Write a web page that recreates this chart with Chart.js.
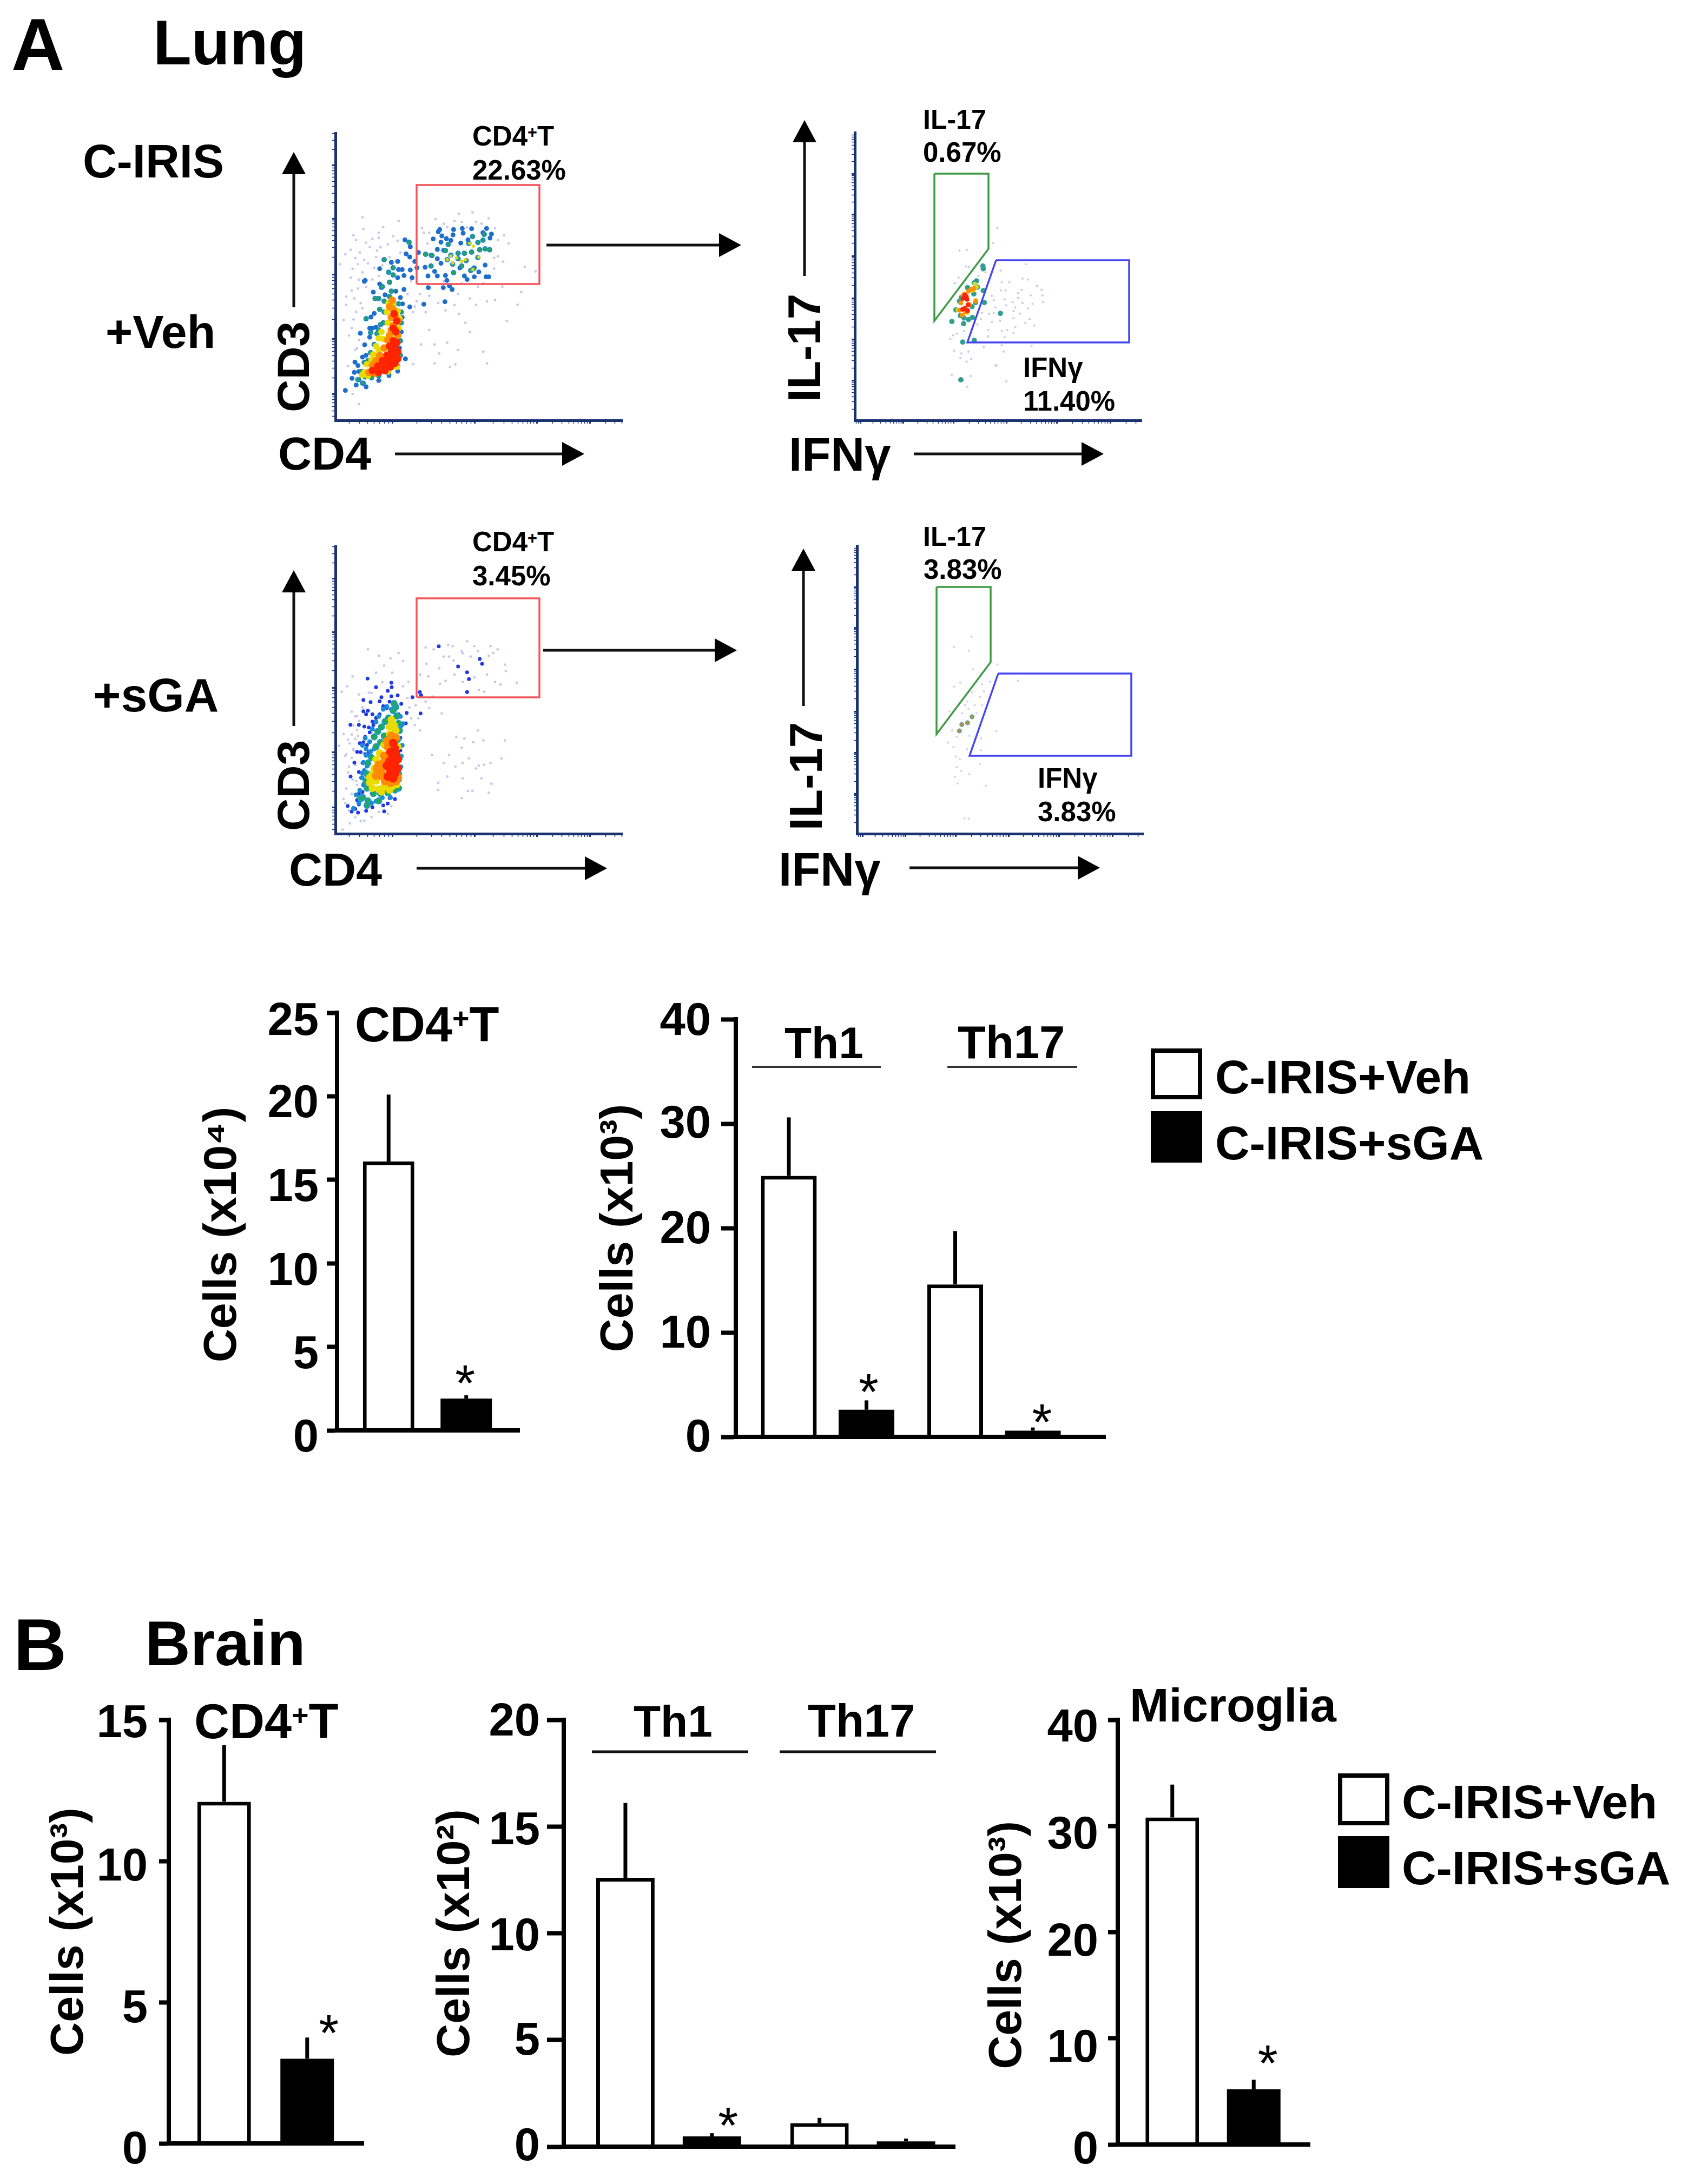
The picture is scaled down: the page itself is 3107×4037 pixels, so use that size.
<!DOCTYPE html>
<html>
<head>
<meta charset="utf-8">
<title>Lung and brain T cells</title>
<script src="https://cdn.jsdelivr.net/npm/chart.js@4"></script>
<style>
html, body { margin: 0; background: #fff; }
#page { position: relative; width: 3107px; height: 4037px; overflow: hidden; font-family: "Liberation Sans", Arial, sans-serif; font-weight: bold; color: #000; }
#page canvas { position: absolute; }
#arrows { position: absolute; left: 0; top: 0; }
.txt { position: absolute; line-height: 1; white-space: nowrap; }
.txt sup { font-size: .6em; vertical-align: .45em; line-height: 0; }
.swatch { position: absolute; box-sizing: border-box; border: 8px solid #000; }
</style>
</head>
<body>
<div id="page">
<svg id="arrows" width="3107" height="4037"></svg>
</div>
<script>
// Bar values, error bars (upward only) and y ticks
const barGroups = ['C-IRIS+Veh', 'C-IRIS+sGA'];
const subsetLabels = ['Th1', 'Th17'];

const lungCd4Ticks = [0, 5, 10, 15, 20, 25];
const lungCd4Veh = [16.1];
const lungCd4VehErr = [4.0];
const lungCd4Sga = [1.9];
const lungCd4SgaErr = [0.2];

const lungThTicks = [0, 10, 20, 30, 40];
const lungThVeh = [25.0, 14.6];
const lungThVehErr = [5.6, 5.1];
const lungThSga = [2.6, 0.6];
const lungThSgaErr = [0.9, 0.3];

const brainCd4Ticks = [0, 5, 10, 15];
const brainCd4Veh = [12.1];
const brainCd4VehErr = [2.0];
const brainCd4Sga = [3.0];
const brainCd4SgaErr = [0.75];

const brainThTicks = [0, 5, 10, 15, 20];
const brainThVeh = [12.6, 1.1];
const brainThVehErr = [3.5, 0.25];
const brainThSga = [0.48, 0.25];
const brainThSgaErr = [0.15, 0.13];

const microgliaTicks = [0, 10, 20, 30, 40];
const microgliaVeh = [30.8];
const microgliaVehErr = [3.1];
const microgliaSga = [5.2];
const microgliaSgaErr = [0.9];

// Flow plots, events in channel units (x, y)
const cd4MajorTicks = [315, 771, 1116, 1410];
const cd3MajorTicks = [144, 450, 810, 1119, 1413];
const ifngMajorTicks = [30, 267, 546, 840, 1119, 1416];
const il17MajorTicks = [222, 450, 678, 912, 1143, 1368];

const cd4Gate = [[450, 756], [1131, 756], [1131, 1305], [450, 1305], [450, 756]];
const il17Gate = [[441, 1368], [741, 1368], [741, 951], [441, 552], [441, 1368]];
const ifngGate = [[783, 888], [1521, 888], [1521, 432], [624, 432], [783, 888]];

const vehCd4Red = [[320,441],[340,431],[300,411],[330,401],[345,381],[310,381],[285,361],[320,351],[345,341],[260,331],[295,326],[330,316],[235,301],[270,296],[305,296],[205,276],[240,266],[275,276],[325,591],[340,551],[320,511],[335,491]];
const vehCd4Orange = [[315,666],[300,631],[320,616],[330,581],[310,571],[345,551],[320,526],[335,501],[310,501],[290,446],[270,401],[245,361],[225,331],[205,306],[185,266],[300,471],[345,471],[250,291],[220,261]];
const vehCd4Yellow = [[295,651],[320,646],[285,601],[345,606],[355,566],[290,541],[255,491],[240,456],[265,451],[225,411],[240,391],[210,366],[200,336],[175,311],[160,266],[148,251],[350,511],[180,246],[290,271],[340,296]];
const vehCd4GateYellow = [[745,981],[765,966],[640,911],[670,901],[720,891],[795,906],[620,891],[650,873],[700,881],[762,836]];
const vehCd4Green = [[245,616],[270,601],[265,541],[250,531],[240,501],[230,481],[215,421],[195,376],[180,331],[160,321],[145,271],[165,241],[200,236],[240,246],[295,261],[345,301],[360,361],[360,441],[365,541],[365,601],[350,646],[300,686],[270,661],[240,676],[220,676],[150,206],[125,226],[408,988],[320,846],[295,821],[270,891],[300,766],[320,806],[260,741],[310,716],[170,563],[195,486],
  [740,981],[790,986],[818,999],[825,1031],[760,1019],[800,946],[855,946],[830,951],[755,933],[715,926],[680,926],[640,916],[535,914],[500,921],[530,856],[620,891],[650,866],[680,896],[700,856],[725,886],[750,831],[765,841],[655,819],[790,903],[610,941],[625,976]];
const vehCd4Blue = [[55,166],[115,196],[170,186],[105,266],[92,233],[108,323],[125,304],[138,483],[162,419],[388,341],[240,221],[345,273],[297,249],[130,226],[155,206],[170,563],[197,573],[215,593],[190,511],[205,511],[225,516],[190,461],[165,776],[160,771],[245,841],[310,876],[345,881],[350,836],[370,836],[380,803],[345,791],[245,756],[255,736],[210,711],[275,696],[335,716],[380,726],[360,681],[372,646],[412,629],[490,644],[607,658],[515,736],[598,736],[632,746],[647,726],[425,791],[415,834],[452,846],[412,906],[392,923],[385,1001],[415,963],[460,931],[440,881],[370,571],[365,491],[355,401],[150,351],[170,361],[130,271],
  [578,1058],[655,1058],[703,1064],[755,1063],[838,1064],[570,1046],[590,1023],[652,1029],[708,1038],[818,1041],[865,1033],[857,1011],[542,1006],[585,988],[615,1008],[640,998],[695,983],[565,948],[600,943],[530,916],[565,896],[497,849],[550,826],[513,801],[565,801],[610,803],[618,776],[715,801],[730,781],[770,796],[835,796],[850,796],[830,861],[795,823],[770,846],[585,871],[690,846],[735,1001]];
const vehCd4Pale = [[150,1126],[100,1026],[205,1006],[240,1011],[265,1071],[155,1061],[350,1106],[85,946],[135,931],[190,961],[290,976],[320,1021],[345,996],[230,941],[55,921],[125,866],[215,846],[180,871],[25,866],[85,791],[125,731],[150,821],[205,781],[105,676],[60,686],[150,621],[45,556],[115,601],[90,511],[130,446],[110,391],[70,301],[95,146],[130,91],
  [420,771],[470,701],[440,631],[520,691],[570,651],[680,701],[745,676],[885,666],[1010,641],[1030,711],[950,551],[720,541],[685,591],[520,501],[745,491],[550,421],[620,431],[475,421],[575,371],[680,391],[820,381],[665,311],[635,296],[840,316],[430,311],[550,316],
  [685,1146],[760,1153],[810,1091],[885,1066],[935,1026],[960,981],[880,901],[880,841],[1050,851],[1110,826],[480,1066],[555,1116],[660,1106],[490,1041],[925,741],[790,741],[620,1071],[730,1071],
  [115,1000],[170,985],[225,905],[250,960],[300,905],[360,930],[240,1040],[110,900],[160,890],[95,840],[240,800],[260,860],[130,780],[170,740],[90,720],[60,640],[140,650],[100,560],[75,470],[120,400],[450,660],[400,700],[430,600],[500,600],[610,610],[660,640],[780,640],[840,660],[900,1000],[850,1120],[640,1000],[700,1100],[520,1040],[510,980],[600,1090],[780,1100],[900,910],[930,880],[820,760],[700,760],[600,770]];

const sgaCd4Red = [[320,502],[330,472],[305,452],[335,442],[315,422],[345,412],[300,402],[330,392],[285,377],[315,372],[345,362],[305,347],[330,332],[290,317],[320,307],[335,352]];
const sgaCd4Orange = [[310,542],[335,532],[290,482],[270,432],[265,392],[255,357],[265,322],[275,292],[305,282],[335,292],[285,512],[250,322],[240,382],[225,322],[230,362],[345,312]];
const sgaCd4Yellow = [[310,632],[325,602],[300,592],[335,572],[300,552],[270,492],[245,447],[225,412],[215,362],[205,332],[225,292],[190,282],[205,252],[240,247],[270,262],[315,262],[340,272],[345,482],[190,312],[255,232],[300,242]];
const sgaCd4Green = [[295,642],[275,622],[255,592],[235,567],[215,537],[270,542],[250,507],[225,482],[200,422],[180,392],[175,332],[170,292],[175,252],[210,222],[250,222],[290,227],[330,242],[350,252],[150,202],[180,182],[240,182],[175,157],[335,702],[320,682],[340,652],[325,722],[350,612],[355,572],[345,522],[355,422],[350,332],[140,197]];
const sgaCd4Cyan = [[165,530],[190,510],[150,490],[170,470],[195,455],[215,470],[170,435],[190,430],[155,395],[175,375],[160,350],[150,335],[145,310],[155,270],[135,240],[115,215],[145,190],[130,170],[100,140],[205,580],[225,620],[240,650],[265,690],[285,705],[310,690],[365,600],[375,610],[360,650],[370,490],[365,430],[362,370],[355,300],[345,255],[305,200],[260,200],[225,180],[200,170]];
const sgaCd4Blue = [[90,122],[110,137],[125,117],[130,162],[170,127],[205,147],[265,157],[290,167],[300,197],[330,192],[270,124],[68,154],[84,317],[130,342],[105,394],[150,392],[180,377],[120,454],[140,452],[165,442],[185,452],[155,507],[175,492],[165,537],[190,562],[160,594],[185,589],[130,604],[83,604],[210,602],[205,622],[225,642],[245,662],[205,662],[155,679],[180,682],[170,662],[195,730],[155,742],[245,734],[225,812],[178,860],[265,707],[285,697],[255,757],[290,792],[310,837],[312,812],[310,762],[345,767],[300,732],[365,720],[330,712],[395,670],[427,757],[472,667],[390,612],[365,602],[350,662],[360,532],[360,462],[365,372],[350,302],[135,502],[150,232],[130,222],[150,312],[160,282],[120,187],
  [573,1039],[800,969],[813,942],[680,927],[730,895],[740,857],[730,785],[468,785],[475,767]];
const sgaCd4Pale = [[180,1022],[240,987],[305,972],[375,957],[350,1002],[65,817],[35,787],[95,872],[225,892],[270,932],[315,892],[185,782],[130,772],[375,817],[405,842],[400,752],[445,712],[500,732],[590,667],[520,697],[120,652],[90,677],[45,552],[125,542],[70,522],[20,487],[100,462],[55,432],[115,292],[75,372],[45,192],[80,57],[40,22],[160,72],[200,92],[310,152],[440,602],[470,572],
  [790,572],[670,537],[715,527],[765,507],[820,517],[940,517],[700,477],[535,437],[630,437],[740,417],[920,417],[600,392],[665,372],[705,392],[795,377],[860,392],[825,382],[780,362],[620,317],[705,307],[810,307],[570,282],[865,277],[570,242],[735,237],[760,237],[850,227],[700,197],
  [500,1032],[545,1022],[625,1047],[730,1067],[700,1012],[790,1012],[900,1022],[850,987],[875,1002],[600,982],[630,982],[505,942],[575,917],[750,982],[810,942],[940,937],[945,902],[610,847],[705,842],[770,867],[840,882],[885,842],[1005,837],[515,872],[470,882],[660,882],[795,797],[825,787],[915,827],[580,832],
  [110,650],[130,625],[100,600],[120,575],[90,550],[110,525],[80,500],[100,470],[60,440],[90,420],[110,380],[70,340],[95,300],[120,270],[60,250],[90,220],[55,170],[75,130],[110,90],[140,70],[240,120],[290,110],[150,700],[200,780],[260,840],[420,640],[410,700],[460,640],[540,760],[655,960],[705,1000],[770,1040],[860,1040],[650,1040]];

const vehThRed = [[618,686],[610,696],[622,671],[628,641],[610,621],[598,616],[625,609],[600,676]];
const vehThOrange = [[645,726],[660,731],[588,651],[670,661],[635,641],[580,611],[615,601],[600,691],[630,716],[595,583]];
const vehThYellow = [[665,756],[655,721],[675,739],[570,613],[595,586],[625,596],[670,666],[605,701]];
const vehThGreen = [[710,856],[712,841],[662,763],[675,773],[680,739],[660,701],[625,736],[560,613],[585,581],[605,568],[630,559],[652,571],[712,719],[718,653],[670,653],[807,593],[538,548],[603,536],[598,434],[662,443],[590,681],[580,661],[650,631],[588,225]];
const vehThPale = [[580,941],[620,946],[765,983],[790,1066],[615,853],[632,851],[575,791],[555,761],[685,801],[725,821],[808,831],[947,866],[930,786],[960,781],[815,766],[857,766],[1010,746],[1035,724],[923,724],[810,721],[835,721],[905,706],[975,693],[1040,693],[760,691],[905,679],[1045,656],[830,671],[875,656],[930,651],[985,646],[840,638],[770,666],[780,626],[890,626],[960,621],[880,606],[915,591],[770,596],[745,591],[705,596],[880,566],[805,551],[970,561],[760,546],[945,541],[995,526],[890,516],[700,561],[680,531],[740,501],[815,496],[845,501],[880,486],[565,481],[545,471],[605,496],[530,451],[740,466],[830,461],[715,406],[815,416],[980,411],[550,386],[590,371],[630,381],[825,381],[645,341],[620,326],[780,306],[585,346],[624,186],[840,216],[642,246],[537,252],[786,303]];

const sgaThOrange = [[638,648],[613,615],[581,605],[568,570]];
const sgaThPale = [[635,1093],[538,1035],[620,1015],[645,911],[778,938],[573,838],[538,815],[738,843],[893,848],[693,828],[703,788],[638,783],[683,758],[613,733],[653,713],[598,713],[618,693],[583,668],[693,713],[663,668],[513,678],[528,573],[553,538],[623,543],[688,528],[773,568],[506,505],[535,481],[610,468],[688,463],[548,428],[570,413],[683,388],[553,368],[578,348],[623,331],[543,315],[558,278],[716,266],[596,85],[620,83]];

const page = document.getElementById('page');

// Text and arrows around the charts
function addText(html, x, baseline, size) {
    const el = document.createElement('div');
    el.className = 'txt';
    el.innerHTML = html;
    el.style.left = x + 'px';
    el.style.top = (baseline - 0.8465 * size) + 'px';
    el.style.fontSize = size + 'px';
    page.appendChild(el);
}

function addRotatedText(html, cx, cy, size) {
    const el = document.createElement('div');
    el.className = 'txt';
    el.innerHTML = html;
    el.style.left = cx + 'px';
    el.style.top = cy + 'px';
    el.style.fontSize = size + 'px';
    el.style.transform = 'translate(-50%,-50%) rotate(-90deg)';
    page.appendChild(el);
}

function addLine(x1, y1, x2, y2, width, color) {
    const svg = document.getElementById('arrows');
    const line = document.createElementNS('http://www.w3.org/2000/svg', 'line');
    line.setAttribute('x1', x1);
    line.setAttribute('y1', y1);
    line.setAttribute('x2', x2);
    line.setAttribute('y2', y2);
    line.setAttribute('stroke', color);
    line.setAttribute('stroke-width', width);
    svg.appendChild(line);
}

function addArrow(x1, y1, x2, y2) {
    const svg = document.getElementById('arrows');
    const len = Math.hypot(x2 - x1, y2 - y1);
    const ux = (x2 - x1) / len, uy = (y2 - y1) / len;
    const bx = x2 - ux * 41, by = y2 - uy * 41;
    addLine(x1, y1, bx, by, 5, '#111');
    const head = document.createElementNS('http://www.w3.org/2000/svg', 'polygon');
    head.setAttribute('points', [x2, y2, bx - uy * 22, by + ux * 22, bx + uy * 22, by - ux * 22].join(' '));
    svg.appendChild(head);
}

function addSwatch(x, y, w, h, filled) {
    const el = document.createElement('div');
    el.className = 'swatch';
    el.style.cssText = 'left:' + x + 'px;top:' + y + 'px;width:' + w + 'px;height:' + h + 'px;background:' + (filled ? '#000' : '#fff');
    page.appendChild(el);
}

addText('A', 21, 129, 136);
addText('Lung', 283, 119, 116);
addText('B', 25, 3087, 136);
addText('Brain', 268, 3078, 116);
addText('C-IRIS', 153, 328, 87);
addText('+Veh', 195, 643, 86);
addText('+sGA', 172, 1315, 88);

addRotatedText('CD3', 542, 678, 84);
addText('CD4', 514, 868, 86);
addText('CD4<sup>+</sup>T', 873, 269, 51);
addText('22.63%', 873, 332, 51);
addRotatedText('IL-17', 1486, 643, 86);
addText('IFNγ', 1458, 870, 87);
addText('IL-17', 1706, 238, 50);
addText('0.67%', 1706, 299, 51);
addText('IFNγ', 1891, 697, 51);
addText('11.40%', 1891, 759, 51);

addRotatedText('CD3', 542, 1452, 84);
addText('CD4', 534, 1637, 86);
addText('CD4<sup>+</sup>T', 873, 1019, 51);
addText('3.45%', 873, 1082, 51);
addRotatedText('IL-17', 1489, 1435, 86);
addText('IFNγ', 1439, 1637, 87);
addText('IL-17', 1706, 1009, 50);
addText('3.83%', 1707, 1070, 51);
addText('IFNγ', 1918, 1456, 51);
addText('3.83%', 1918, 1518, 51);

addArrow(543, 568, 543, 281);
addArrow(730, 839, 1080, 839);
addArrow(1010, 453, 1370, 453);
addArrow(1487, 510, 1487, 222);
addArrow(1689, 839, 2040, 839);
addArrow(543, 1342, 543, 1054);
addArrow(770, 1605, 1122, 1605);
addArrow(1004, 1202, 1362, 1202);
addArrow(1485, 1305, 1485, 1014);
addArrow(1681, 1604, 2033, 1604);

// Panel headers
addText('CD4<sup>+</sup>T', 656, 1925, 90);
addText(subsetLabels[0], 1450, 1956, 82);
addText(subsetLabels[1], 1770, 1956, 85);
addLine(1390, 1972, 1628, 1972, 4, '#333');
addLine(1751, 1972, 1991, 1972, 4, '#333');
addText('CD4<sup>+</sup>T', 359, 3213, 90);
addText(subsetLabels[0], 1171, 3210, 82);
addText(subsetLabels[1], 1493, 3210, 85);
addLine(1094, 3238, 1383, 3238, 5, '#111');
addLine(1441, 3238, 1730, 3238, 5, '#111');
addText('Microglia', 2088, 3182, 87);

// Legends
addSwatch(2127, 1938, 95, 94, false);
addSwatch(2127, 2054, 95, 95, true);
addText(barGroups[0], 2246, 2021, 88);
addText(barGroups[1], 2246, 2143, 88);
addSwatch(2473, 3278, 95, 96, false);
addSwatch(2473, 3394, 95, 96, true);
addText(barGroups[0], 2591, 3361, 88);
addText(barGroups[1], 2591, 3483, 88);

function placeCanvas(id, left, top, width, height) {
    const canvas = document.createElement('canvas');
    canvas.id = id;
    canvas.width = width;
    canvas.height = height;
    canvas.style.left = left + 'px';
    canvas.style.top = top + 'px';
    page.appendChild(canvas);
    return canvas;
}

// Bar panels: two series, black axes, error bars and stars drawn from the scales
function barPanel(id, cfg) {
    const titleSize = 86;
    const marginTop = 100, marginBottom = 120, marginRight = 80;
    const canvasLeft = cfg.titleX - 70;
    const marginLeft = cfg.x0 - canvasLeft;
    const canvas = placeCanvas(id, canvasLeft, cfg.y0 - marginTop,
        marginLeft + cfg.x1 - cfg.x0 + marginRight, cfg.y1 - cfg.y0 + marginTop + marginBottom);

    const extras = {
        id: 'barExtras',
        afterLayout(chart) {
            const { x, y } = chart.scales;
            y.right = cfg.axisX - canvasLeft;
            y.left = cfg.titleX - canvasLeft - titleSize / 2;
            x.left = cfg.axisX - canvasLeft;
            x.right = cfg.xEnd - canvasLeft;
            y.getLabelItems(chart.chartArea).forEach(function(item, i) {
                item.options.translation[1] += cfg.tickNudge[i];
            });
        },
        afterDatasetsDraw(chart) {
            const ctx = chart.ctx;
            const y = chart.scales.y;
            chart.data.datasets.forEach(function(ds, d) {
                chart.getDatasetMeta(d).data.forEach(function(bar, i) {
                    const top = y.getPixelForValue(ds.data[i] + ds.errors[i]);
                    ctx.save();
                    ctx.strokeStyle = '#000';
                    ctx.lineWidth = 7;
                    ctx.beginPath();
                    ctx.moveTo(bar.x, bar.y);
                    ctx.lineTo(bar.x, top);
                    ctx.stroke();
                    const star = ds.stars && ds.stars[i];
                    if (star) {
                        ctx.fillStyle = '#000';
                        ctx.font = '95px "Liberation Sans"';
                        ctx.textAlign = 'center';
                        ctx.textBaseline = 'alphabetic';
                        ctx.fillText('*', bar.x + star[0], top - star[1] + 47);
                    }
                    ctx.restore();
                });
            });
        }
    };

    const spacing = (cfg.x1 - cfg.x0) / cfg.labels.length;
    const catPercent = 2 * cfg.barGap / spacing;
    const barPercent = cfg.barWidth / cfg.barGap;

    return new Chart(canvas, {
        type: 'bar',
        data: {
            labels: cfg.labels,
            datasets: [
                { label: barGroups[0], data: cfg.veh, errors: cfg.vehErr, backgroundColor: '#fff', borderColor: '#000', borderWidth: 7, categoryPercentage: catPercent, barPercentage: barPercent },
                { label: barGroups[1], data: cfg.sga, errors: cfg.sgaErr, stars: cfg.stars, backgroundColor: '#000', borderColor: '#000', borderWidth: 0, categoryPercentage: catPercent, barPercentage: barPercent }
            ]
        },
        options: {
            responsive: false,
            animation: false,
            events: [],
            layout: { padding: { top: marginTop, right: marginRight, left: 0, bottom: 0 } },
            plugins: { legend: { display: false }, tooltip: { enabled: false } },
            scales: {
                x: {
                    afterFit: function(s) { s.height = marginBottom; },
                    grid: { display: false, drawTicks: false },
                    border: { display: true, color: '#000', width: 8, z: 1 },
                    ticks: { display: false }
                },
                y: {
                    min: 0,
                    max: cfg.ticks[cfg.ticks.length - 1],
                    afterFit: function(s) { s.width = marginLeft; },
                    grid: { drawOnChartArea: false, tickLength: cfg.tickLength, tickWidth: 8, tickColor: '#000' },
                    border: { display: true, color: '#000', width: 8, z: 1 },
                    ticks: {
                        stepSize: cfg.ticks[1] - cfg.ticks[0],
                        autoSkip: false,
                        padding: cfg.tickPadding,
                        color: '#000',
                        font: { family: '"Liberation Sans"', weight: 'bold', size: 85 }
                    },
                    title: {
                        display: true,
                        text: cfg.title,
                        color: '#000',
                        padding: 0,
                        font: { family: '"Liberation Sans"', weight: 'bold', size: titleSize, lineHeight: 1 }
                    }
                }
            }
        },
        plugins: [extras]
    });
}

// trailing spaces keep the rotated title a little below the middle of the axis, as in the figure
barPanel('lungCd4', {
    labels: ['CD4+T'], veh: lungCd4Veh, vehErr: lungCd4VehErr, sga: lungCd4Sga, sgaErr: lungCd4SgaErr, ticks: lungCd4Ticks,
    title: 'Cells (x10⁴)  ', titleX: 412, axisX: 623, xEnd: 960, x0: 623, x1: 957, y0: 1872, y1: 2644,
    barGap: 143.5, barWidth: 95, tickLength: 19, tickPadding: 15, tickNudge: [16, 16, 16, 16, 15, 18], stars: [[-2, 37]]
});
barPanel('lungTh', {
    labels: subsetLabels, veh: lungThVeh, vehErr: lungThVehErr, sga: lungThSga, sgaErr: lungThSgaErr, ticks: lungThTicks,
    title: 'Cells (x10³)', titleX: 1145, axisX: 1360, xEnd: 2043, x0: 1376, x1: 1991, y0: 1884, y1: 2656,
    barGap: 143.5, barWidth: 103, tickLength: 27, tickPadding: 19, tickNudge: [4, 5, 5, 3, 6], stars: [[4, 30], [17, 25]]
});
barPanel('brainCd4', {
    labels: ['CD4+T'], veh: brainCd4Veh, vehErr: brainCd4VehErr, sga: brainCd4Sga, sgaErr: brainCd4SgaErr, ticks: brainCd4Ticks,
    title: 'Cells (x10³)', titleX: 129, axisX: 312, xEnd: 672, x0: 312, x1: 670, y0: 3179, y1: 3962,
    barGap: 153.5, barWidth: 99, tickLength: 18, tickPadding: 21, tickNudge: [14, 14, 13, 9], stars: [[40, 23]]
});
barPanel('brainTh', {
    labels: subsetLabels, veh: brainThVeh, vehErr: brainThVehErr, sga: brainThSga, sgaErr: brainThSgaErr, ticks: brainThTicks,
    title: 'Cells (x10²)', titleX: 843, axisX: 1042, xEnd: 1765, x0: 1056.5, x1: 1774.5, y0: 3179, y1: 3968,
    barGap: 160, barWidth: 108, tickLength: 31, tickPadding: 13, tickNudge: [2, 4, 8, 9, 6], stars: [[30, 29], null]
});
barPanel('microglia', {
    labels: ['Microglia'], veh: microgliaVeh, vehErr: microgliaVehErr, sga: microgliaSga, sgaErr: microgliaSgaErr, ticks: microgliaTicks,
    title: 'Cells (x10³)  ', titleX: 1863, axisX: 2066, xEnd: 2421, x0: 2066, x1: 2418, y0: 3179, y1: 3964,
    barGap: 150.5, barWidth: 99, tickLength: 18, tickPadding: 18, tickNudge: [12, 20, 20, 18, 17], stars: [[26, 45]]
});

// Log style ticks between the decade marks of a flow axis
function decadeTicks(majors, max) {
    const first = majors[0] - (majors[1] - majors[0]);
    const last = majors[majors.length - 1] + (majors[majors.length - 1] - majors[majors.length - 2]);
    const stops = [first].concat(majors, [last]);
    const out = [];
    for (let i = 0; i < stops.length - 1; i++) {
        for (let k = 1; k < 10; k++) {
            const v = stops[i] + (stops[i + 1] - stops[i]) * Math.log10(k);
            if (v >= 0 && v <= max) out.push({ value: v, major: k === 1 });
        }
    }
    return out;
}

function flowAxis(max, majors, margin) {
    return {
        min: 0,
        max: max,
        afterBuildTicks: function(s) { s.ticks = decadeTicks(majors, max); },
        afterFit: function(s) { if (s.isHorizontal()) s.height = margin; else s.width = margin; },
        grid: {
            drawOnChartArea: false,
            tickLength: 6,
            tickColor: '#1a3270',
            tickWidth: function(ctx) { return ctx.tick && ctx.tick.major ? 3 : 1.5; }
        },
        border: { display: true, color: '#1a3270', width: 5 },
        ticks: { display: false }
    };
}

function gateSet(points, color) {
    return { data: points, showLine: true, borderColor: color, borderWidth: 3.5, pointRadius: 0, fill: false };
}

function dotSet(points, color, radius, ring) {
    return { data: points, pointBackgroundColor: color, pointBorderColor: ring || color, pointBorderWidth: ring ? 2 : 0, pointRadius: radius };
}

function flowPanel(id, x0, x1, y0, y1, xMajors, yMajors, sets) {
    const margin = 20;
    const canvas = placeCanvas(id, x0 - margin, y0 - margin, x1 - x0 + 2 * margin, y1 - y0 + 2 * margin);
    return new Chart(canvas, {
        type: 'scatter',
        data: { datasets: sets },
        options: {
            responsive: false,
            animation: false,
            events: [],
            layout: { padding: { top: margin, right: margin, left: 0, bottom: 0 } },
            plugins: { legend: { display: false }, tooltip: { enabled: false } },
            scales: {
                x: flowAxis((x1 - x0) * 3, xMajors, margin),
                y: flowAxis((y1 - y0) * 3, yMajors, margin)
            }
        }
    });
}

flowPanel('vehCd4', 620, 1150, 246, 777, cd4MajorTicks, cd3MajorTicks, [
    gateSet(cd4Gate, '#f2555c'),
    dotSet(vehCd4Red, '#ff2400', 7),
    dotSet(vehCd4Orange, '#ff8c00', 7),
    dotSet(vehCd4GateYellow, '#dcd820', 3),
    dotSet(vehCd4Yellow, '#e8dc00', 6),
    dotSet(vehCd4Green, '#22a85a', 4, '#1f86c8'),
    dotSet(vehCd4Blue, '#1e6ecb', 4.5),
    dotSet(vehCd4Pale, '#c6c6ea', 2.4)
]);
flowPanel('vehTh', 1580, 2110, 245, 777, ifngMajorTicks, il17MajorTicks, [
    gateSet(il17Gate, '#3f9a45'),
    gateSet(ifngGate, '#4646f0'),
    dotSet(vehThRed, '#ff2400', 4.5),
    dotSet(vehThOrange, '#ff9000', 4.5),
    dotSet(vehThYellow, '#d8dc20', 4),
    dotSet(vehThGreen, '#2f9f78', 4, '#3aa0a8'),
    dotSet(vehThPale, '#c6c6ea', 2)
]);
flowPanel('sgaCd4', 620, 1150, 1010, 1541, cd4MajorTicks, cd3MajorTicks, [
    gateSet(cd4Gate, '#f2555c'),
    dotSet(sgaCd4Red, '#ff2400', 8),
    dotSet(sgaCd4Orange, '#ff8c00', 8),
    dotSet(sgaCd4Yellow, '#e8dc00', 7),
    dotSet(sgaCd4Green, '#22a85a', 5.5, '#1f9ac8'),
    dotSet(sgaCd4Cyan, '#1a8ad8', 4.5),
    dotSet(sgaCd4Blue, '#2238e0', 3.5),
    dotSet(sgaCd4Pale, '#c6c6ea', 2.4)
]);
flowPanel('sgaTh', 1584, 2113, 1009, 1541, ifngMajorTicks, il17MajorTicks, [
    gateSet(il17Gate, '#3f9a45'),
    gateSet(ifngGate, '#4646f0'),
    dotSet(sgaThOrange, '#d08a20', 3.5, '#58a8a0'),
    dotSet(sgaThPale, '#d0d0ee', 2)
]);
</script>
</body>
</html>
